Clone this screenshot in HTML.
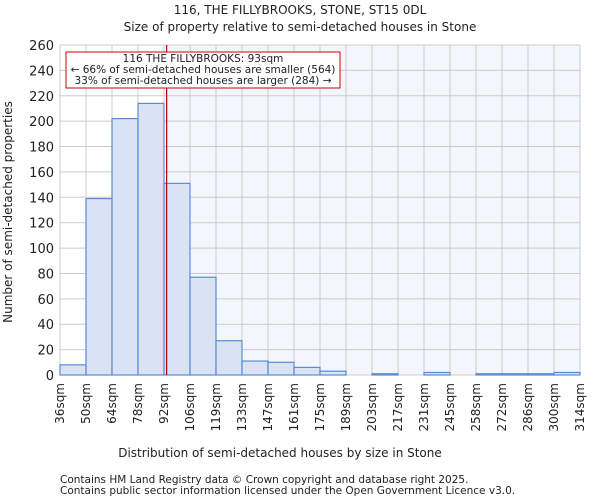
<!DOCTYPE html>
<html><head><meta charset="utf-8"><style>
body{margin:0;background:#fff;font-family:"DejaVu Sans","Liberation Sans",sans-serif;}
svg text{font-family:"DejaVu Sans","Liberation Sans",sans-serif;fill:#222;}
</style></head><body>
<svg id="c" width="600" height="500">
<text x="300" y="14" text-anchor="middle" font-size="12">116, THE FILLYBROOKS, STONE, ST15 0DL</text>
<text x="300" y="31" text-anchor="middle" font-size="12">Size of property relative to semi-detached houses in Stone</text>
<g id="plot"></g>
<text x="280" y="457" text-anchor="middle" font-size="12">Distribution of semi-detached houses by size in Stone</text>
<text transform="translate(12,212) rotate(-90)" text-anchor="middle" font-size="12">Number of semi-detached properties</text>
<text x="60" y="483" font-size="10.5">Contains HM Land Registry data © Crown copyright and database right 2025.</text>
<text x="60" y="494" font-size="10.5">Contains public sector information licensed under the Open Government Licence v3.0.</text>
</svg>
<script>
const binEdges=[36,50,64,78,92,106,119,133,147,161,175,189,203,217,231,245,258,272,286,300,314];
const counts=[8,139,202,214,151,77,27,11,10,6,3,0,1,0,2,0,1,1,1,2];
const yTicks=[0,20,40,60,80,100,120,140,160,180,200,220,240,260];
const propertySize=93;
const X0=60,X1=580,Y0=375,Y1=45,YMAX=260;
const bw=(X1-X0)/counts.length;
const xIdx=i=>X0+i*bw;
const xVal=v=>X0+(v-36)/(314-36)*(X1-X0);
const y=v=>Y0-v/YMAX*(Y0-Y1);
const NS="http://www.w3.org/2000/svg";
const g=document.getElementById('plot');
function mk(t,a){const e=document.createElementNS(NS,t);for(const k in a)e.setAttribute(k,a[k]);g.appendChild(e);return e;}
const px=xVal(propertySize);
let r=mk('rect',{x:px,y:Y1,width:X1-px,height:Y0-Y1,fill:'#f3f6fd'});


yTicks.forEach(t=>{
 const l=mk('line',{x1:X0,x2:X1,y1:y(t),y2:y(t),stroke:'#cccccc','stroke-width':1});
 
 
 const tx=mk('text',{x:X0-6,y:y(t)+5,'text-anchor':'end','font-size':13});
 tx.textContent=t;
 
 
});
binEdges.forEach((b,i)=>{
 const xx=xIdx(i);
 const l=mk('line',{x1:xx,x2:xx,y1:Y1,y2:Y0,stroke:'#cccccc','stroke-width':1});
 
 
 const tx=mk('text',{transform:`translate(${xx+4},${Y0+8}) rotate(-90)`,'text-anchor':'end','font-size':12});
 tx.textContent=b+'sqm';
 
 
});
counts.forEach((c,i)=>{
 if(c<=0)return;
 const b=mk('rect',{x:xIdx(i),y:y(c),width:bw,height:Y0-y(c),fill:'#dae3f3',stroke:'#5b8bd0','stroke-width':1.2});
 
 
});
let pl=mk('line',{x1:px,x2:px,y1:Y1,y2:Y0,stroke:'#b00000','stroke-width':1.2});


let box=mk('rect',{x:66,y:52,width:274,height:36,fill:'#fff',stroke:'#cc0000','stroke-width':1});


[['116 THE FILLYBROOKS: 93sqm',62],['← 66% of semi-detached houses are smaller (564)',73],['33% of semi-detached houses are larger (284) →',84]].forEach(([s,yy])=>{
 const t=mk('text',{x:203,y:yy,'text-anchor':'middle','font-size':10.5});
 t.textContent=s;
 
 
});
</script>
</body></html>
